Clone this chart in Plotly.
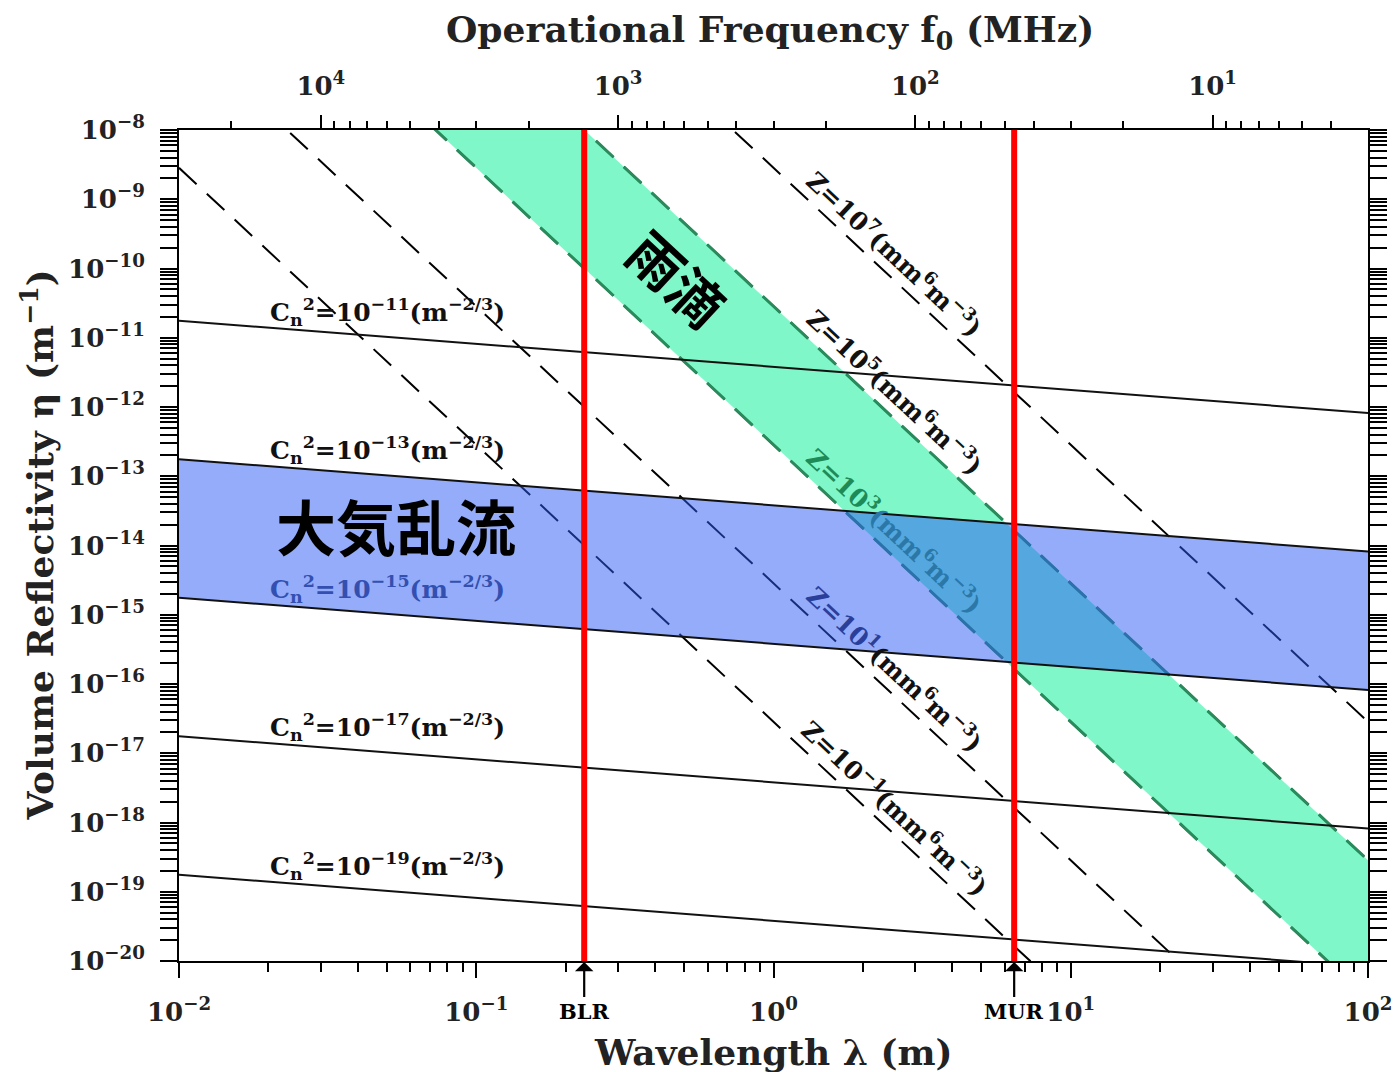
import numpy as np
import plotly.graph_objects as go

# ---- data ---------------------------------------------------------------
# wavelength span of the diagram (m)
wavelength_ends = [1e-2, 1e2]

# clear-air turbulence: refractive-index structure constant Cn^2 (m^-2/3)
cn2_values = [1e-11, 1e-13, 1e-15, 1e-17, 1e-19]
cn2_exponents = [-11, -13, -15, -17, -19]

# precipitation: radar reflectivity factor Z (mm^6 m^-3)
z_values = [1e7, 1e5, 1e3, 1e1, 1e-1]
z_exponents = [7, 5, 3, 1, -1]

# shaded ranges
turbulence_band = [1e-15, 1e-13]   # Cn^2 limits
raindrop_band = [1e3, 1e5]         # Z limits

# radars and their operating frequencies (MHz)
radar_names = ["BLR", "MUR"]
radar_freqs_mhz = [1300.0, 46.5]

# axis ticks
x_major_exp = [-2, -1, 0, 1, 2]
y_major_exp = list(range(-20, -7))
f_major_exp = [4, 3, 2, 1]
f_range_mhz = [3e4, 3.0]

K2 = 0.93  # |K|^2 for water


def eta_turb(lam, cn2):
    return 0.38 * cn2 * np.asarray(lam) ** (-1.0 / 3.0)


def eta_rain(lam, z):
    return np.pi ** 5 * K2 * z * 1e-18 / np.asarray(lam) ** 4


def sup(e):
    return "10<sup>" + str(e).replace("-", "\u2212") + "</sup>"


lam = np.array(wavelength_ends)
SERIF = "DejaVu Serif"
fig = go.Figure()

# dashed reflectivity-factor lines
for z in z_values:
    fig.add_trace(go.Scatter(x=lam, y=eta_rain(lam, z), mode="lines",
                             line=dict(color="black", width=2, dash="24px,14px"),
                             hoverinfo="skip"))

# raindrop band between the two Z limits
zlo, zhi = raindrop_band
fig.add_trace(go.Scatter(
    x=[lam[0], lam[1], lam[1], lam[0]],
    y=[eta_rain(lam[0], zlo), eta_rain(lam[1], zlo),
       eta_rain(lam[1], zhi), eta_rain(lam[0], zhi)],
    fill="toself", fillcolor="rgba(0,240,145,0.5)", mode="none",
    hoverinfo="skip"))
for z in raindrop_band:
    fig.add_trace(go.Scatter(x=lam, y=eta_rain(lam, z), mode="lines",
                             line=dict(color="#2a8a5c", width=3, dash="24px,14px"),
                             hoverinfo="skip"))

# turbulence band between the two Cn^2 limits
clo, chi = turbulence_band
fig.add_trace(go.Scatter(
    x=[lam[0], lam[1], lam[1], lam[0]],
    y=[eta_turb(lam[0], clo), eta_turb(lam[1], clo),
       eta_turb(lam[1], chi), eta_turb(lam[0], chi)],
    fill="toself", fillcolor="rgba(41,89,245,0.5)", mode="none",
    hoverinfo="skip"))

# solid turbulence lines
for c in cn2_values:
    fig.add_trace(go.Scatter(x=lam, y=eta_turb(lam, c), mode="lines",
                             line=dict(color="#111111", width=2),
                             hoverinfo="skip"))

# radar frequencies, drawn on the frequency axis
for f in radar_freqs_mhz:
    fig.add_trace(go.Scatter(x=[f, f], y=[1e-20, 1e-8], xaxis="x2", mode="lines",
                             line=dict(color="#ff0000", width=6), hoverinfo="skip"))

ann = []

# Cn^2 labels
cn2_colors = {-15: "#3350b0"}
lab_lam = 0.02
for c, e in zip(cn2_values, cn2_exponents):
    col = cn2_colors.get(e, "#111111")
    txt = ("C<sub>n</sub><sup>2</sup>=" + sup(e) + "(m<sup>\u22122/3</sup>)")
    ann.append(dict(x=np.log10(lab_lam), y=float(np.log10(eta_turb(lab_lam, c))),
                    xref="x", yref="y", text=txt, showarrow=False,
                    xanchor="left", yanchor="bottom", yshift=-4,
                    font=dict(family=SERIF, size=25, color=col, weight="bold")))

# Z labels, laid along their lines
z_lam = 2.564
unit = "(mm<sup>6</sup>m<sup>\u22123</sup>)"
for z, e in zip(z_values, z_exponents):
    head = "Z=" + sup(e)
    if e == 3:
        txt = ('<span style="color:#1e8a58">' + head + '</span>'
               '<span style="color:#2b78a8">' + unit + '</span>')
    elif e == 1:
        txt = ('<span style="color:#2a3f9a">' + head + '</span>'
               '<span style="color:#111111">' + unit + '</span>')
    else:
        txt = head + unit
    ann.append(dict(x=np.log10(z_lam), y=float(np.log10(eta_rain(z_lam, z))),
                    xref="x", yref="y", text=txt, showarrow=False,
                    textangle=43, xanchor="center", yanchor="middle", yshift=28,
                    font=dict(family=SERIF, size=25, color="#111111", weight="bold")))

# region names
ann.append(dict(x=-0.3208, y=-10.123, xref="x", yref="y", text="雨滴",
                showarrow=False, textangle=43,
                font=dict(family="Noto Sans CJK JP", size=54, color="black", weight="bold")))
ann.append(dict(x=-1.269, y=-13.70, xref="x", yref="y", text="大気乱流",
                showarrow=False,
                font=dict(family="Noto Sans CJK JP", size=60, color="black", weight="bold")))

# radar markers below the wavelength axis
for name, f in zip(radar_names, radar_freqs_mhz):
    ann.append(dict(x=np.log10(f), y=0, xref="x2", yref="paper", text=name,
                    showarrow=True, ax=0, ay=50, arrowhead=1, arrowsize=1.4,
                    arrowwidth=2.2, arrowcolor="black", standoff=1,
                    font=dict(family=SERIF, size=21, color="black", weight="bold")))

# axis titles
title_font = dict(family=SERIF, size=36, color="#222222", weight="bold")
ann.append(dict(x=0.497, y=1.118, xref="paper", yref="paper",
                text="Operational Frequency f<sub>0</sub> (MHz)", showarrow=False,
                xanchor="center", yanchor="middle", font=title_font))
ann.append(dict(x=0.5, y=-0.1095, xref="paper", yref="paper",
                text="Wavelength \u03bb (m)", showarrow=False,
                xanchor="center", yanchor="middle", font=title_font))
ann.append(dict(x=-0.1194, y=0.5, xref="paper", yref="paper",
                text="Volume Reflectivity \u03b7 (m<sup>\u22121</sup>)", showarrow=False,
                textangle=-90, xanchor="center", yanchor="middle", font=title_font))

tick_font = dict(family=SERIF, size=26, color="#222222", weight="bold")


def minor_vals(lo_exp, hi_exp, lo, hi):
    vals = []
    for e in range(lo_exp, hi_exp + 1):
        for m in range(2, 10):
            v = m * 10.0 ** e
            if lo < v < hi:
                vals.append(v)
    return vals


axis_common = dict(type="log", showgrid=False, zeroline=False, showline=True,
                   linecolor="black", linewidth=2, ticks="outside",
                   tickcolor="black", tickwidth=2, automargin=False,
                   tickfont=tick_font)

fig.update_layout(
    width=1397, height=1072,
    margin=dict(l=179, r=29, t=130, b=111, autoexpand=False),
    paper_bgcolor="white", plot_bgcolor="white", showlegend=False,
    xaxis=dict(**axis_common, range=[-2, 2], ticklen=15,
               tickmode="array", tickvals=[10.0 ** e for e in x_major_exp],
               ticktext=[sup(e) for e in x_major_exp], ticklabelstandoff=12,
               minor=dict(tickmode="array", tickvals=minor_vals(-2, 1, 1e-2, 1e2),
                          ticks="outside", ticklen=9, tickwidth=1.5, tickcolor="black")),
    xaxis2=dict(**axis_common, overlaying="x", side="top", anchor="y",
                range=[np.log10(f_range_mhz[0]), np.log10(f_range_mhz[1])],
                ticklen=13, tickmode="array",
                tickvals=[10.0 ** e for e in f_major_exp],
                ticktext=[sup(e) for e in f_major_exp], ticklabelstandoff=10,
                minor=dict(tickmode="array", tickvals=minor_vals(0, 4, 3.0, 3e4),
                           ticks="outside", ticklen=7, tickwidth=1.5, tickcolor="black")),
    yaxis=dict(**axis_common, range=[-20, -8], ticklen=17, mirror="allticks",
               tickmode="array", tickvals=[10.0 ** e for e in y_major_exp],
               ticktext=[sup(e) for e in y_major_exp], ticklabelstandoff=10,
               minor=dict(tickmode="array", tickvals=minor_vals(-20, -9, 1e-20, 1e-8),
                          ticks="outside", ticklen=9, tickwidth=1.5, tickcolor="black")),
    annotations=ann,
)

fig.write_html("out.html", config={"displayModeBar": False})
